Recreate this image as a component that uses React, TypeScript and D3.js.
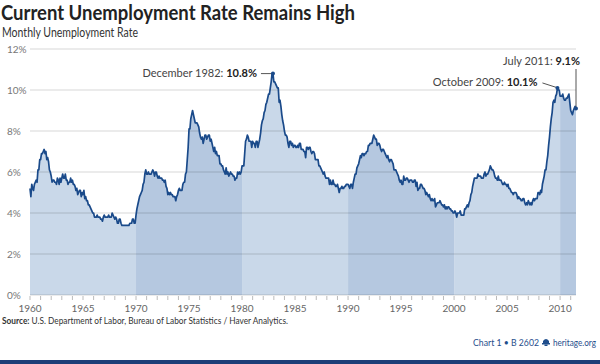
import React from "react";
import * as d3 from "d3";

// monthly unemployment rate, Jan 1960 - Jul 2011 (percent)
const rates1960s = [
  5.2, 4.8, 5.4, 5.2, 5.1, 5.4, 5.5, 5.6, 5.5, 6.1, 6.1, 6.6,
  6.6, 6.9, 6.9, 7.0, 7.1, 6.9, 7.0, 6.6, 6.7, 6.5, 6.1, 6.0,
  5.8, 5.5, 5.6, 5.6, 5.5, 5.5, 5.4, 5.7, 5.6, 5.4, 5.7, 5.5,
  5.7, 5.9, 5.7, 5.7, 5.9, 5.6, 5.6, 5.4, 5.5, 5.5, 5.7, 5.5,
  5.6, 5.4, 5.4, 5.3, 5.1, 5.2, 4.9, 5.0, 5.1, 5.1, 4.8, 5.0,
  4.9, 5.1, 4.7, 4.8, 4.6, 4.6, 4.4, 4.4, 4.3, 4.2, 4.1, 4.0,
  4.0, 3.8, 3.8, 3.8, 3.9, 3.8, 3.8, 3.8, 3.7, 3.7, 3.6, 3.8,
  3.9, 3.8, 3.8, 3.8, 3.8, 3.9, 3.8, 3.8, 3.8, 4.0, 3.9, 3.8,
  3.7, 3.8, 3.7, 3.5, 3.5, 3.7, 3.7, 3.5, 3.4, 3.4, 3.4, 3.4,
  3.4, 3.4, 3.4, 3.4, 3.4, 3.5, 3.5, 3.5, 3.7, 3.7, 3.5, 3.5,
];
const rates1970s = [
  3.9, 4.2, 4.4, 4.6, 4.8, 4.9, 5.0, 5.1, 5.4, 5.5, 5.9, 6.1,
  5.9, 5.9, 6.0, 5.9, 5.9, 5.9, 6.0, 6.1, 6.0, 5.8, 6.0, 6.0,
  5.8, 5.7, 5.8, 5.7, 5.7, 5.7, 5.6, 5.6, 5.5, 5.6, 5.3, 5.2,
  4.9, 5.0, 4.9, 5.0, 4.9, 4.9, 4.8, 4.8, 4.8, 4.6, 4.8, 4.9,
  5.1, 5.2, 5.1, 5.1, 5.1, 5.4, 5.5, 5.5, 5.9, 6.0, 6.6, 7.2,
  8.1, 8.1, 8.6, 8.8, 9.0, 8.8, 8.6, 8.4, 8.4, 8.4, 8.3, 8.2,
  7.9, 7.7, 7.6, 7.7, 7.4, 7.6, 7.8, 7.8, 7.6, 7.7, 7.8, 7.8,
  7.5, 7.6, 7.4, 7.2, 7.0, 7.2, 6.9, 7.0, 6.8, 6.8, 6.8, 6.4,
  6.4, 6.3, 6.3, 6.1, 6.0, 5.9, 6.2, 5.9, 6.0, 5.8, 5.9, 6.0,
  5.9, 5.9, 5.8, 5.8, 5.6, 5.7, 5.7, 6.0, 5.9, 6.0, 5.9, 6.0,
];
const rates1980s = [
  6.3, 6.3, 6.3, 6.9, 7.5, 7.6, 7.8, 7.7, 7.5, 7.5, 7.5, 7.2,
  7.5, 7.4, 7.4, 7.2, 7.5, 7.5, 7.2, 7.4, 7.6, 7.9, 8.3, 8.5,
  8.6, 8.9, 9.0, 9.3, 9.4, 9.6, 9.8, 9.8, 10.1, 10.4, 10.8, 10.8,
  10.4, 10.4, 10.3, 10.2, 10.1, 10.1, 9.4, 9.5, 9.2, 8.8, 8.5, 8.3,
  8.0, 7.8, 7.8, 7.7, 7.4, 7.2, 7.5, 7.5, 7.3, 7.4, 7.2, 7.3,
  7.3, 7.2, 7.2, 7.3, 7.2, 7.4, 7.4, 7.1, 7.1, 7.1, 7.0, 7.0,
  6.7, 7.2, 7.2, 7.1, 7.2, 7.2, 7.0, 6.9, 7.0, 7.0, 6.9, 6.6,
  6.6, 6.6, 6.6, 6.3, 6.3, 6.2, 6.1, 6.0, 5.9, 6.0, 5.8, 5.7,
  5.7, 5.7, 5.7, 5.4, 5.6, 5.4, 5.4, 5.6, 5.4, 5.4, 5.3, 5.3,
  5.4, 5.2, 5.0, 5.2, 5.2, 5.3, 5.2, 5.2, 5.3, 5.3, 5.4, 5.4,
];
const rates1990s = [
  5.4, 5.3, 5.2, 5.4, 5.4, 5.2, 5.5, 5.7, 5.9, 5.9, 6.2, 6.3,
  6.4, 6.6, 6.8, 6.7, 6.9, 6.9, 6.8, 6.9, 6.9, 7.0, 7.0, 7.3,
  7.3, 7.4, 7.4, 7.4, 7.6, 7.8, 7.7, 7.6, 7.6, 7.3, 7.4, 7.4,
  7.3, 7.1, 7.0, 7.1, 7.1, 7.0, 6.9, 6.8, 6.7, 6.8, 6.6, 6.5,
  6.6, 6.6, 6.5, 6.4, 6.1, 6.1, 6.1, 6.0, 5.9, 5.8, 5.6, 5.5,
  5.6, 5.4, 5.4, 5.8, 5.6, 5.6, 5.7, 5.7, 5.6, 5.5, 5.6, 5.6,
  5.6, 5.5, 5.5, 5.6, 5.6, 5.3, 5.5, 5.1, 5.2, 5.2, 5.4, 5.4,
  5.3, 5.2, 5.2, 5.1, 4.9, 5.0, 4.9, 4.8, 4.9, 4.7, 4.6, 4.7,
  4.6, 4.6, 4.7, 4.3, 4.4, 4.5, 4.5, 4.5, 4.6, 4.5, 4.4, 4.4,
  4.3, 4.4, 4.2, 4.3, 4.2, 4.3, 4.3, 4.2, 4.2, 4.1, 4.1, 4.0,
];
const rates2000s = [
  4.0, 4.1, 4.0, 3.8, 4.0, 4.0, 4.0, 4.1, 3.9, 3.9, 3.9, 3.9,
  4.2, 4.2, 4.3, 4.4, 4.3, 4.5, 4.6, 4.9, 5.0, 5.3, 5.5, 5.7,
  5.7, 5.7, 5.7, 5.9, 5.8, 5.8, 5.8, 5.7, 5.7, 5.7, 5.9, 6.0,
  5.8, 5.9, 5.9, 6.0, 6.1, 6.3, 6.2, 6.1, 6.1, 6.0, 5.8, 5.7,
  5.7, 5.6, 5.8, 5.6, 5.6, 5.6, 5.5, 5.4, 5.4, 5.5, 5.4, 5.4,
  5.3, 5.4, 5.2, 5.2, 5.1, 5.0, 5.0, 4.9, 5.0, 5.0, 5.0, 4.9,
  4.7, 4.8, 4.7, 4.7, 4.6, 4.6, 4.7, 4.7, 4.5, 4.4, 4.5, 4.4,
  4.6, 4.5, 4.4, 4.5, 4.4, 4.6, 4.7, 4.6, 4.7, 4.7, 4.7, 5.0,
  5.0, 4.9, 5.1, 5.0, 5.4, 5.6, 5.8, 6.1, 6.1, 6.5, 6.8, 7.3,
  7.7, 8.2, 8.6, 8.9, 9.4, 9.5, 9.4, 9.7, 9.8, 10.1, 10.0, 10.0,
];
const rates2010s = [
  9.7, 9.7, 9.7, 9.8, 9.6, 9.5, 9.5, 9.6, 9.6, 9.7, 9.8, 9.4,
  9.0, 8.9, 8.8, 9.0, 9.1, 9.2, 9.1,
];

const yTicks = [0, 2, 4, 6, 8, 10, 12];
const yearLabels = [1960, 1965, 1970, 1975, 1980, 1985, 1990, 1995, 2000, 2005, 2010];
const decadeStarts = [1960, 1970, 1980, 1990, 2000, 2010];

const callouts = [
  { label: "December 1982: ", value: "10.8%", year: 1982, month: 11, rate: 10.8 },
  { label: "October 2009: ", value: "10.1%", year: 2009, month: 9, rate: 10.1 },
  { label: "July 2011: ", value: "9.1%", year: 2011, month: 6, rate: 9.1 },
];

const allRates = [...rates1960s, ...rates1970s, ...rates1980s, ...rates1990s, ...rates2000s, ...rates2010s];
const series = allRates.map((v, i) => ({ t: 1960 + i / 12, v }));
const endT = series[series.length - 1].t;

const W = 600;
const H = 364;
const FONT = "Lato, 'Open Sans', sans-serif";

const x = d3.scaleLinear().domain([1960, endT]).range([30, 576]);
const y = d3.scaleLinear().domain([0, 12]).range([295, 49]);

const App: React.FC = () => {
  const area = d3
    .area<{ t: number; v: number }>()
    .x((d) => x(d.t))
    .y0(y(0))
    .y1((d) => y(d.v));
  const line = d3
    .line<{ t: number; v: number }>()
    .x((d) => x(d.t))
    .y((d) => y(d.v));

  const minorYears = d3.range(1960, Math.floor(endT) + 1);

  return (
    <svg width={W} height={H} style={{ position: "absolute", left: 0, top: 0, background: "#fff" }}>
      <defs>
        <clipPath id="areaClip">
          <path d={area(series) || ""} />
        </clipPath>
      </defs>

      {/* titles */}
      <text x={1} y={20} fontFamily={FONT} fontWeight={700} fontSize={21} fill="#222" textLength={354} lengthAdjust="spacingAndGlyphs">
        Current Unemployment Rate Remains High
      </text>
      <text x={2} y={37} fontFamily={FONT} fontSize={13} fill="#333" textLength={136} lengthAdjust="spacingAndGlyphs">
        Monthly Unemployment Rate
      </text>

      {/* decade bands under the curve */}
      <g clipPath="url(#areaClip)">
        {decadeStarts.map((d, i) => (
          <rect
            key={d}
            x={x(d)}
            y={y(12)}
            width={x(Math.min(d + 10, endT)) - x(d)}
            height={y(0) - y(12)}
            fill={i % 2 === 0 ? "#c9d8e9" : "#b5c8e0"}
          />
        ))}
      </g>

      {/* grid */}
      {yTicks.map((t) => (
        <g key={t}>
          <line x1={30} x2={576} y1={y(t)} y2={y(t)} stroke="#000" strokeOpacity={0.16} strokeWidth={1} />
          <text x={7} y={y(t) + 3.5} fontFamily={FONT} fontSize={10} fill="#777">
            {t}%
          </text>
        </g>
      ))}

      {/* x axis ticks */}
      {minorYears.map((yr) => (
        <line key={yr} x1={x(yr)} x2={x(yr)} y1={y(0) + 1} y2={y(0) + 5} stroke="#bbb" strokeWidth={1} />
      ))}
      {yearLabels.map((yr) => (
        <text key={yr} x={x(yr)} y={312} textAnchor="middle" fontFamily={FONT} fontSize={10} fill="#666">
          {yr}
        </text>
      ))}

      {/* line */}
      <path d={line(series) || ""} fill="none" stroke="#1a4a8a" strokeWidth={1.7} strokeLinejoin="round" />

      {/* callouts */}
      {callouts.map((c, i) => {
        const px = x(c.year + c.month / 12);
        const py = y(c.rate);
        let tx = px - 16;
        let ty = py + 3.5;
        let leader = `M${px - 12},${py}L${px - 2},${py}`;
        if (i === 1) {
          tx = px - 20;
          ty = py - 2;
          leader = `M${px - 15},${py - 5}L${px - 1},${py - 0.5}`;
        } else if (i === 2) {
          tx = px + 4;
          ty = 65;
          leader = `M${px},${69}L${px},${py}`;
        }
        return (
          <g key={c.label}>
            <path d={leader} stroke="#555" strokeWidth={1} fill="none" />
            <circle cx={px} cy={py} r={2} fill="#1a4a8a" />
            <text x={tx} y={ty} textAnchor="end" fontFamily={FONT} fontSize={11} fill="#444">
              {c.label}
              <tspan fontWeight={700} fill="#222">
                {c.value}
              </tspan>
            </text>
          </g>
        );
      })}

      {/* footer */}
      <text x={2} y={324} fontFamily={FONT} fontSize={9} fill="#333" textLength={286} lengthAdjust="spacingAndGlyphs">
        <tspan fontWeight={700}>Source:</tspan> U.S. Department of Labor, Bureau of Labor Statistics / Haver Analytics.
      </text>
      <text x={539} y={346} textAnchor="end" fontFamily={FONT} fontSize={9.5} fill="#1f4e8c" textLength={66} lengthAdjust="spacingAndGlyphs">
        Chart 1 • B 2602
      </text>
      <g transform="translate(542,338)" fill="#1f4e8c">
        <path d="M1,3 Q4,-1 7,3 L7,5 L1,5 Z" />
        <rect x={0} y={5} width={8} height={1.5} />
        <rect x={2.5} y={6.5} width={3} height={1.5} />
      </g>
      <text x={596} y={346} textAnchor="end" fontFamily={FONT} fontSize={8.5} fill="#1f4e8c" textLength={43} lengthAdjust="spacingAndGlyphs">
        heritage.org
      </text>
      <rect x={0} y={360} width={W} height={4} fill="#1d3f78" />
    </svg>
  );
};

export default App;
